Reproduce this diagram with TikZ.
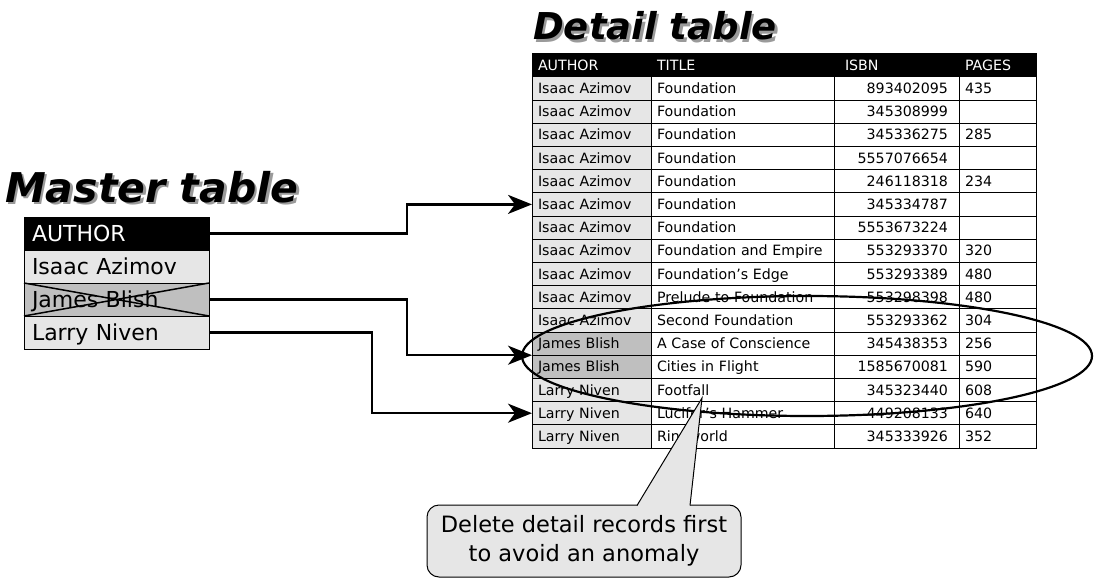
\documentclass[tikz,border=0pt]{standalone}
\usepackage{fontspec}
\setmainfont{DejaVu Sans}
\usetikzlibrary{arrows.meta}
\definecolor{lightg}{HTML}{E6E6E6}
\definecolor{darkg}{HTML}{BFBFBF}
\definecolor{shadowg}{HTML}{9A9A9A}
\newcommand\detfont{\fontsize{14.2}{16}\selectfont}
\newcommand\masfont{\fontsize{22}{26}\selectfont}
\tikzset{
  cell/.style={draw, line width=0.8pt, minimum height=23.2pt, inner xsep=6pt, inner ysep=0pt,
    outer sep=0pt, anchor=north west, text height=10.2pt, text depth=0pt, font=\detfont},
  hcell/.style={cell, fill=black, text=white},
  mcell/.style={draw, line width=0.9pt, minimum height=33pt, inner xsep=8pt, inner ysep=0pt,
    outer sep=0pt, anchor=north west, text width=169pt, align=left, text height=16pt, text depth=0pt, font=\masfont},
  conn/.style={line width=2.2pt, -{Stealth[length=24pt, width=19pt, inset=7pt]}},
  ttl/.style={anchor=base west, inner sep=0pt, font=\bfseries\itshape},
  note/.style={draw, line width=1pt, fill=lightg, rounded corners=12pt, minimum width=314pt,
    minimum height=72pt, align=center, font=\fontsize{22.5}{29}\selectfont},
}
\newcommand\drow[6]{%
  \pgfmathsetmacro\ry{76.8+23.2*#1}
  \node[cell, fill=#6, text width=107pt, align=left] (a#1) at (532,\ry) {#2};
  \node[cell, text width=171pt, align=left] (t#1) at (651,\ry) {#3};
  \node[cell, text width=103pt, align=right, inner xsep=11pt] (i#1) at (834,\ry) {#4};
  \node[cell, text width=65pt, align=left] (p#1) at (959,\ry) {#5};
}
\begin{document}
\begin{tikzpicture}[x=1pt, y=-1pt]
\useasboundingbox (0,0) rectangle (1094,580);
% titles
\node[ttl, text=shadowg, font=\fontsize{41}{41}\selectfont\bfseries\itshape] (mtitleS) at (7.5,204.5) {Master table};
\node[ttl, font=\fontsize{41}{41}\selectfont\bfseries\itshape] (mtitle) at (5,202) {Master table};
\node[ttl, text=shadowg, font=\fontsize{37}{37}\selectfont\bfseries\itshape] (dtitleS) at (535.5,42.5) {Detail table};
\node[ttl, font=\fontsize{37}{37}\selectfont\bfseries\itshape] (dtitle) at (533,40) {Detail table};
% detail header
\node[hcell, text width=107pt, align=left] (ha) at (532,53.6) {AUTHOR};
\node[hcell, text width=171pt, align=left] (ht) at (651,53.6) {TITLE};
\node[hcell, text width=103pt, align=left, inner xsep=11pt] (hi) at (834,53.6) {ISBN};
\node[hcell, text width=65pt, align=left] (hp) at (959,53.6) {PAGES};
% detail rows
\drow{0}{Isaac Azimov}{Foundation}{893402095}{435}{lightg}
\drow{1}{Isaac Azimov}{Foundation}{345308999}{}{lightg}
\drow{2}{Isaac Azimov}{Foundation}{345336275}{285}{lightg}
\drow{3}{Isaac Azimov}{Foundation}{5557076654}{}{lightg}
\drow{4}{Isaac Azimov}{Foundation}{246118318}{234}{lightg}
\drow{5}{Isaac Azimov}{Foundation}{345334787}{}{lightg}
\drow{6}{Isaac Azimov}{Foundation}{5553673224}{}{lightg}
\drow{7}{Isaac Azimov}{Foundation and Empire}{553293370}{320}{lightg}
\drow{8}{Isaac Azimov}{Foundation’s Edge}{553293389}{480}{lightg}
\drow{9}{Isaac Azimov}{Prelude to Foundation}{553298398}{480}{lightg}
\drow{10}{Isaac Azimov}{Second Foundation}{553293362}{304}{lightg}
\drow{11}{James Blish}{A Case of Conscience}{345438353}{256}{darkg}
\drow{12}{James Blish}{Cities in Flight}{1585670081}{590}{darkg}
\drow{13}{Larry Niven}{Footfall}{345323440}{608}{lightg}
\drow{14}{Larry Niven}{Lucifer’s Hammer}{449208133}{640}{lightg}
\drow{15}{Larry Niven}{Ringworld}{345333926}{352}{lightg}
% master table
\node[mcell, fill=black, text=white] (mh) at (24,217) {AUTHOR};
\node[mcell, fill=lightg] (m1) at (24,250) {Isaac Azimov};
\node[mcell, fill=darkg] (m2) at (24,283) {James Blish};
\node[mcell, fill=lightg] (m3) at (24,316) {Larry Niven};
\draw[line width=1.5pt] (m2.north west) -- (m2.south east) (m2.south west) -- (m2.north east);
% connectors
\coordinate (bendA) at (407,0);
\coordinate (bendB) at (372,0);
\draw[conn] (mh.east) -- (mh.east -| bendA) |- (a5.west);
\draw[conn] (m2.east) -- (m2.east -| bendA) |- (a11.south west);
\draw[conn] (m3.east) -- (m3.east -| bendB) |- (a14.west);
% ellipse
\draw[line width=2.2pt] (807,356) ellipse [x radius=285pt, y radius=60pt];
% callout
\node[note] (note) at (584,541) {Delete detail records first\\to avoid an anomaly};
\coordinate (tipP) at (702,398);
\fill[lightg] (637,506.5) -- (tipP) -- (690,506.5) -- cycle;
\draw[line width=1pt] (637,505.5) -- (tipP) -- (690,505.5);
\end{tikzpicture}
\end{document}
